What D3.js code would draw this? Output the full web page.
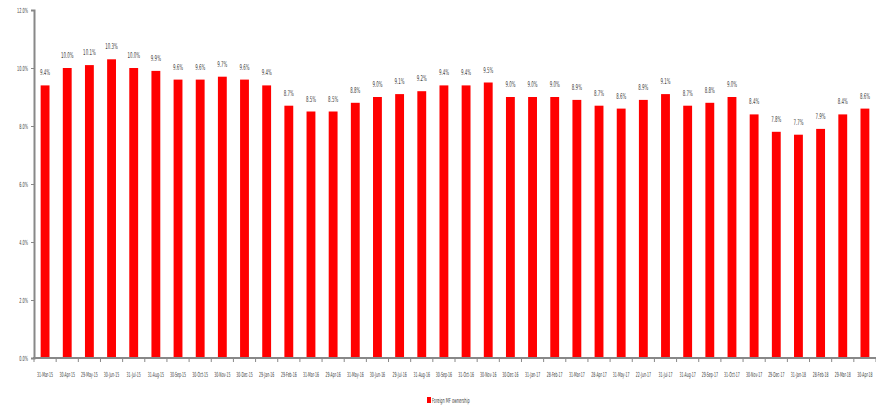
<!DOCTYPE html>
<html><head><meta charset="utf-8">
<script src="https://cdn.jsdelivr.net/npm/d3@7"></script>
<style>body{margin:0;background:#fff}svg{display:block}</style>
</head><body>
<svg id="c" width="876" height="407"></svg>
<script>
const categories = ["31-Mar-15","30-Apr-15","29-May-15","30-Jun-15","31-Jul-15","31-Aug-15","30-Sep-15","30-Oct-15","30-Nov-15","30-Dec-15","29-Jan-16","29-Feb-16","31-Mar-16","29-Apr-16","31-May-16","30-Jun-16","29-Jul-16","31-Aug-16","30-Sep-16","31-Oct-16","30-Nov-16","30-Dec-16","31-Jan-17","28-Feb-17","31-Mar-17","28-Apr-17","31-May-17","22-Jun-17","31-Jul-17","31-Aug-17","29-Sep-17","31-Oct-17","30-Nov-17","29-Dec-17","31-Jan-18","28-Feb-18","29-Mar-18","30-Apr-18"];
const values = [9.4,10.0,10.1,10.3,10.0,9.9,9.6,9.6,9.7,9.6,9.4,8.7,8.5,8.5,8.8,9.0,9.1,9.2,9.4,9.4,9.5,9.0,9.0,9.0,8.9,8.7,8.6,8.9,9.1,8.7,8.8,9.0,8.4,7.8,7.7,7.9,8.4,8.6];
const yTicks = [0,2,4,6,8,10,12];
const seriesName = "Foreign MF ownership";

const svg = d3.select("#c");
const pL = 34, pR = 876, pT = 10, pB = 358;
const x = d3.scaleBand().domain(categories).range([pL, pR]).paddingInner(0.6).paddingOuter(0.3);
const y = d3.scaleLinear().domain([0,12]).range([pB, pT]);
const fontN = "'DejaVu Sans Condensed','Liberation Sans Narrow',sans-serif";

// bars
svg.append("g").selectAll("rect").data(values).join("rect")
  .attr("x",(d,i)=>x(categories[i]))
  .attr("y",d=>y(d))
  .attr("width",x.bandwidth())
  .attr("height",d=>pB-y(d))
  .attr("fill","#ff0000");

// value labels
svg.append("g").selectAll("text").data(values).join("text")
  .attr("transform",(d,i)=>`translate(${x(categories[i])+x.bandwidth()/2},${y(d)-10}) scale(0.55,1)`)
  .attr("text-anchor","middle")
  .attr("font-family",fontN).attr("font-size",8).attr("fill","#404040")
  .text(d=>d.toFixed(1)+"%");

// y axis
const ya = svg.append("g").attr("transform",`translate(${pL},0)`)
  .call(d3.axisLeft(y).tickValues(yTicks).tickSize(3).tickPadding(3).tickFormat(d=>d.toFixed(1)+"%"));
ya.select(".domain").attr("stroke","#888").attr("stroke-width",2);
ya.selectAll(".tick line").attr("stroke","#888");
ya.selectAll(".tick text").attr("font-family",fontN).attr("font-size",7).attr("fill","#404040")
  .attr("transform","scale(0.55,1)").attr("x",-6/0.55);

// x axis
const xb = d3.scaleLinear().domain([0,categories.length]).range([pL,pR]);
const xa = svg.append("g").attr("transform",`translate(0,${pB})`);
xa.append("line").attr("x1",pL-1).attr("x2",pR).attr("stroke","#888").attr("stroke-width",2);
xa.selectAll("line.t").data(d3.range(categories.length+1)).join("line").attr("class","t")
  .attr("x1",d=>xb(d)).attr("x2",d=>xb(d)).attr("y1",0).attr("y2",4).attr("stroke","#888");
xa.selectAll("text.lab").data(categories).join("text").attr("class","lab")
  .attr("transform",d=>`translate(${x(d)+x.bandwidth()/2},19) scale(0.5,1)`)
  .attr("text-anchor","middle").attr("font-family",fontN).attr("font-size",7).attr("fill","#404040")
  .text(d=>d);

// legend
const lg = svg.append("g").attr("transform","translate(427,397)");
lg.append("rect").attr("width",4).attr("height",6).attr("fill","#ff0000");
lg.append("text").attr("transform","translate(5,6) scale(0.55,1)").attr("font-family",fontN)
  .attr("font-size",7).attr("fill","#404040").text(seriesName);
</script>
</body></html>
